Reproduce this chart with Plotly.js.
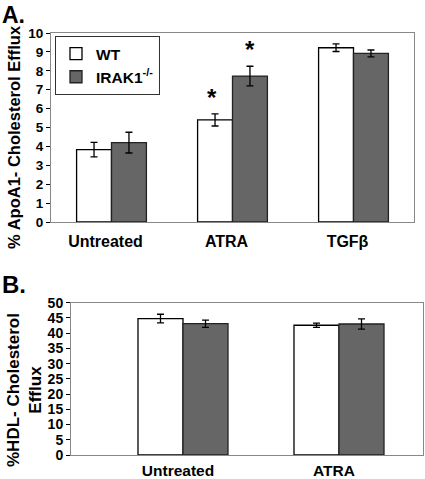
<!DOCTYPE html>
<html><head><meta charset="utf-8">
<script src="https://cdn.plot.ly/plotly-3.0.1.min.js"></script>
<style>body{margin:0;padding:0;background:#fff}#chart{width:425px;height:479px}</style>
</head><body><div id="chart"></div>
<script>
// Panel A data
const catsA = ["Untreated", "ATRA", "TGFβ"];
const wtA = [3.83, 5.40, 9.22];
const wtAerr = [0.38, 0.32, 0.2];
const irakA = [4.20, 7.72, 8.92];
const irakAerr = [0.55, 0.52, 0.18];
const starsA = ["", "*", ""];       // WT significance marks
const starsAirak = ["", "*", ""];   // IRAK1 significance marks
const titleA = "% ApoA1- Cholesterol Efflux";
// Panel B data
const catsB = ["Untreated", "ATRA"];
const wtB = [44.8, 42.6];
const wtBerr = [1.4, 0.7];
const irakB = [43.1, 43.0];
const irakBerr = [1.2, 1.7];
const titleB = "%HDL- Cholesterol<br>Efflux";
const yTicksA = [0,1,2,3,4,5,6,7,8,9,10];
const yTicksB = [0,5,10,15,20,25,30,35,40,45,50];

const posA = catsA.map((c,i)=>i);
const posB = catsB.map((c,i)=>i);
const W = 425, H = 479;
const font = {family: "Arial, 'Liberation Sans', sans-serif", color: "#000"};
const F = (size) => Object.assign({}, font, {size: size});
const bold = s => "<b>" + s + "</b>";
const errStyle = (arr) => ({type: "data", array: arr, visible: true, color: "#000", thickness: 1.3, width: 3.5});
const wtMarker = {color: "#ffffff", line: {color: "#000", width: 1.3}};
const irakMarker = {color: "#666666", line: {color: "#222", width: 1.3}};

const traces = [
  {type: "bar", x: posA, y: wtA, name: bold("WT"), marker: wtMarker, error_y: errStyle(wtAerr), xaxis: "x", yaxis: "y"},
  {type: "bar", x: posA, y: irakA, name: bold("IRAK1<sup>-/-</sup>"), marker: irakMarker, error_y: errStyle(irakAerr), xaxis: "x", yaxis: "y"},
  {type: "bar", x: posB, y: wtB, name: "WT", marker: wtMarker, error_y: errStyle(wtBerr), xaxis: "x2", yaxis: "y2", showlegend: false},
  {type: "bar", x: posB, y: irakB, name: "IRAK1", marker: irakMarker, error_y: errStyle(irakBerr), xaxis: "x2", yaxis: "y2", showlegend: false}
];

const pairA = 70/121.3; // fraction of category occupied by a bar pair
const annotations = [];
posA.forEach((p,i)=>{
  if (starsA[i]) annotations.push({x: p - pairA/4, y: wtA[i] + wtAerr[i] + 0.05, xref: "x", yref: "y", text: bold(starsA[i]), showarrow: false, yanchor: "bottom", xshift: -3, font: F(24)});
  if (starsAirak[i]) annotations.push({x: p + pairA/4, y: irakA[i] + irakAerr[i] + 0.05, xref: "x", yref: "y", text: bold(starsAirak[i]), showarrow: false, yanchor: "bottom", font: F(24)});
});
annotations.push({x: 0, y: 1, xref: "paper", yref: "paper", xanchor: "left", yanchor: "top", text: bold("A."), showarrow: false, font: F(23), xshift: 0});
annotations.push({x: 0, y: 1 - 284/H, xref: "paper", yref: "paper", xanchor: "left", yanchor: "middle", text: bold("B."), showarrow: false, font: F(24), xshift: 0});
annotations.push({x: 14/W, y: 1 - 137/H, xref: "paper", yref: "paper", xanchor: "center", yanchor: "middle", textangle: -90, text: bold(titleA), showarrow: false, font: F(16.5)});
annotations.push({x: 24/W, y: 1 - 390/H, xref: "paper", yref: "paper", xanchor: "center", yanchor: "middle", textangle: -90, text: bold(titleB), showarrow: false, font: F(17)});

const yaxCommon = {showline: true, linecolor: "#888", linewidth: 1, mirror: true, ticks: "outside", ticklen: 4, tickcolor: "#000", showgrid: false, zeroline: false};
const xaxCommon = {showline: true, linecolor: "#888", linewidth: 1, mirror: true, ticks: "", showgrid: false, zeroline: false, tickfont: F(16)};

const layout = {
  width: W, height: H,
  margin: {l: 0, r: 0, t: 0, b: 0},
  paper_bgcolor: "#fff", plot_bgcolor: "#fff",
  barmode: "group", bargroupgap: 0,
  showlegend: true,
  legend: {x: 55/W, y: 1 - 36/H, xref: "paper", yref: "paper", xanchor: "left", yanchor: "top", bordercolor: "#333", borderwidth: 1, bgcolor: "#fff", font: F(15.5), tracegroupgap: 2, itemwidth: 30},
  xaxis: Object.assign({}, xaxCommon, {domain: [51/W, 414/W], anchor: "y", range: [-0.5, 2.5], tickvals: posA, ticktext: catsA.map(bold), ticklabelstandoff: 5, ticklabelshift: -6}),
  yaxis: Object.assign({}, yaxCommon, {domain: [1 - 222/H, 1 - 33/H], anchor: "x", range: [0, 10], tickvals: yTicksA, ticktext: yTicksA.map(v=>bold(String(v))), tickfont: F(13.5)}),
  xaxis2: Object.assign({}, xaxCommon, {domain: [71/W, 423/W], anchor: "y2", range: [(71-183)/156, (423-183)/156], tickvals: posB, ticktext: catsB.map(bold), tickfont: F(15.5), ticklabelstandoff: 1, ticklabelshift: -5}),
  yaxis2: Object.assign({}, yaxCommon, {domain: [1 - 455/H, 1 - 302.7/H], anchor: "x2", range: [0, 50], tickvals: yTicksB, ticktext: yTicksB.map(v=>bold(String(v))), tickfont: F(14)}),
  annotations: annotations
};
layout.bargap = 1 - pairA;
Plotly.newPlot("chart", traces, layout, {displayModeBar: false, staticPlot: true});
</script></body></html>
